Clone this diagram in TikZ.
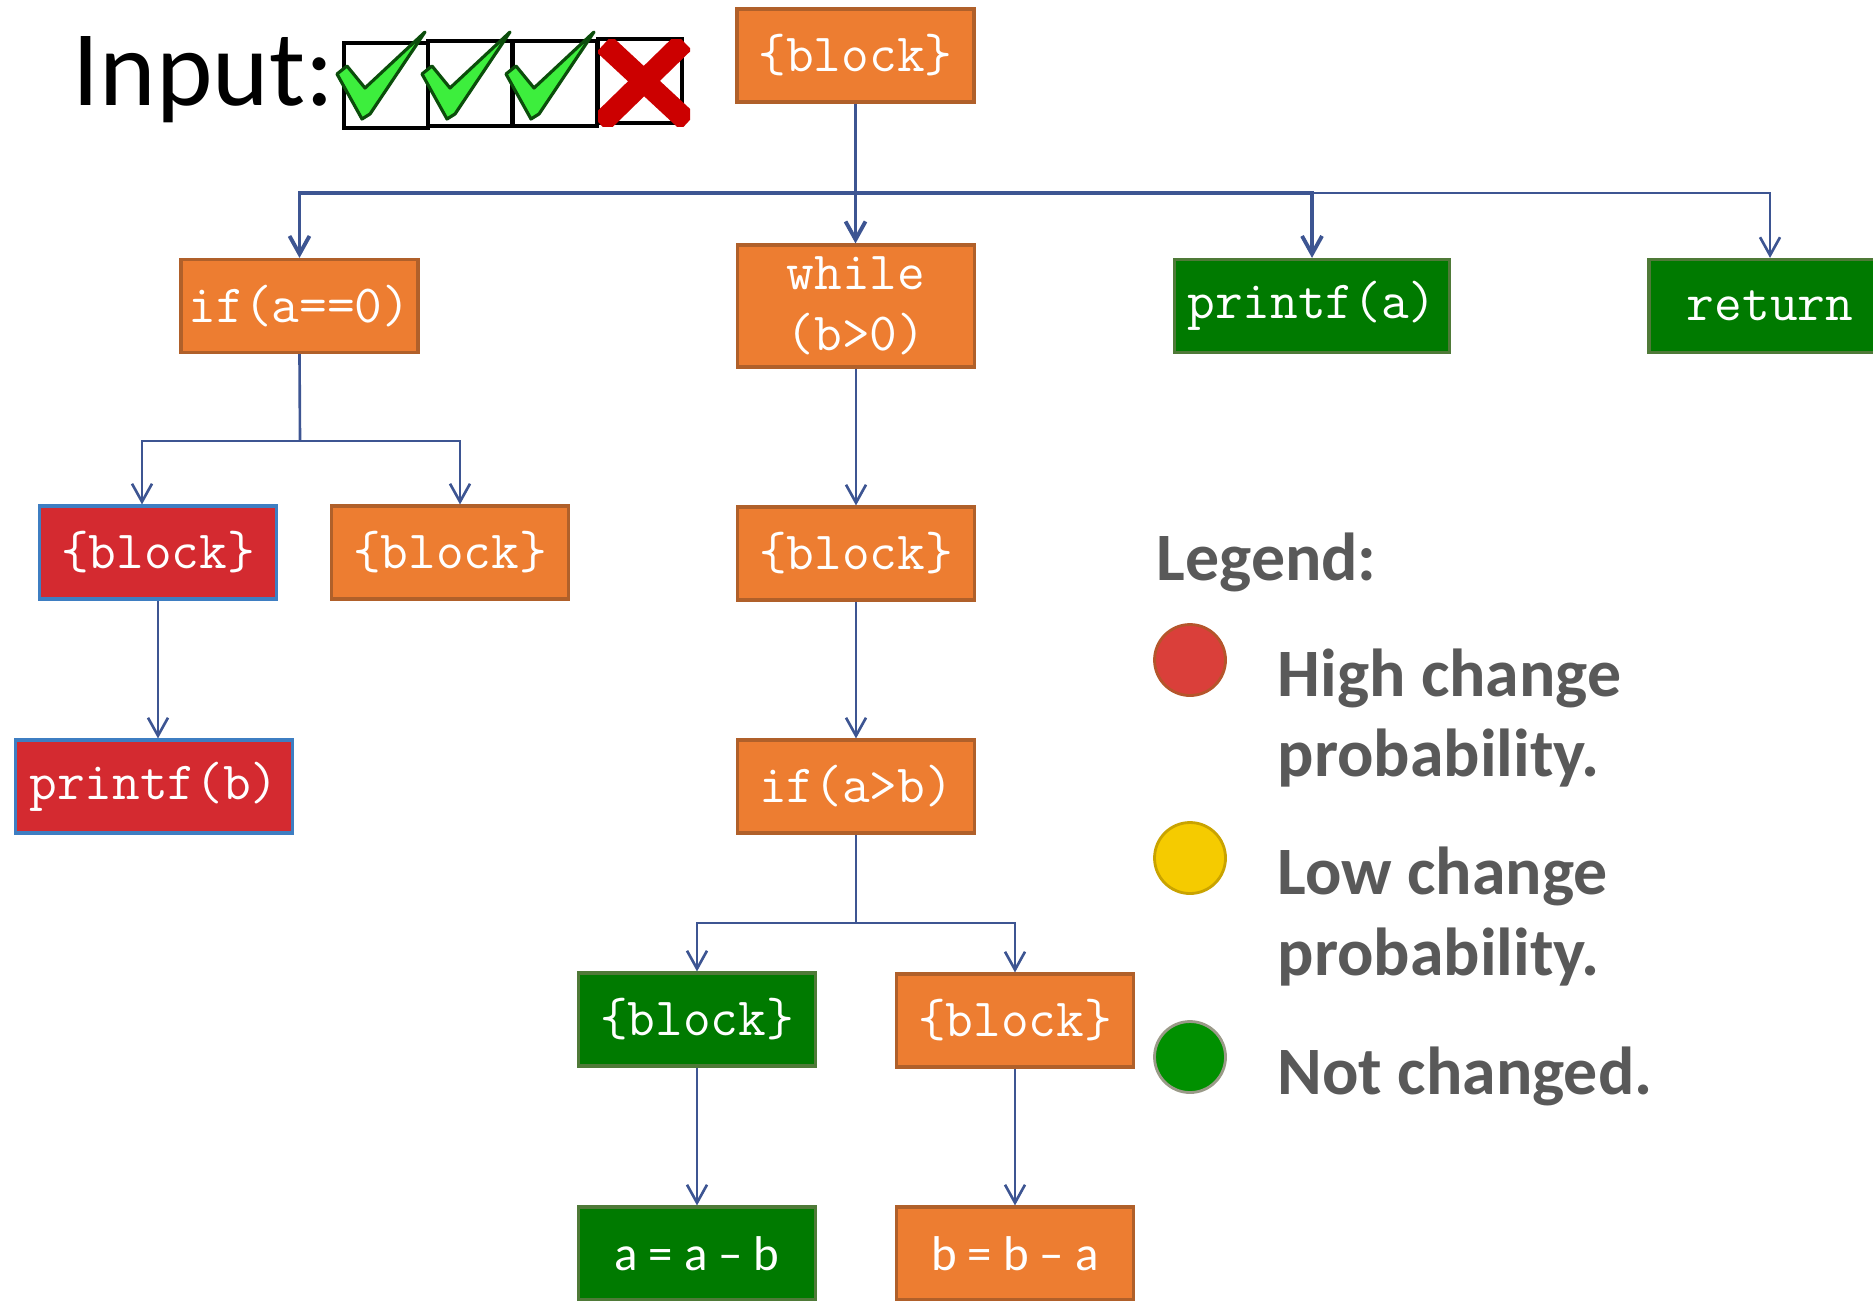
\documentclass[tikz,border=0pt]{standalone}
\usepackage{fontspec}
\setmainfont{Carlito}
\newfontfamily\plainfont{Carlito}
\usetikzlibrary{arrows.meta}

\definecolor{nodeorange}{HTML}{ED7D31}
\definecolor{orangeedge}{HTML}{B0602A}
\definecolor{nodered}{HTML}{D42A30}
\definecolor{rededge}{HTML}{3E7EC2}
\definecolor{nodegreen}{HTML}{007A00}
\definecolor{greenedge}{HTML}{4F7A38}
\definecolor{linkblue}{HTML}{3D5592}
\definecolor{legendgray}{HTML}{595959}
\definecolor{tickgreen}{HTML}{3DEE3D}
\definecolor{tickdark}{HTML}{0B4D0B}
\definecolor{crossred}{HTML}{CC0000}
\definecolor{dotred}{HTML}{DA3F3A}
\definecolor{dotrededge}{HTML}{B5552B}
\definecolor{dotyellow}{HTML}{F5CB00}
\definecolor{dotyellowedge}{HTML}{C9A300}
\definecolor{dotgreen}{HTML}{009000}
\definecolor{dotgreenedge}{HTML}{9A9A88}

\tikzset{
  box/.style={rectangle, draw, line width=0.9pt, minimum width=23.7mm,
    minimum height=9.3mm, inner sep=0pt, text=white,
    font=\ttfamily\fontsize{15.3pt}{15.9pt}\selectfont},
  hot/.style={box, fill=nodered, draw=rededge},
  warm/.style={box, fill=nodeorange, draw=orangeedge},
  cool/.style={box, fill=nodegreen, draw=greenedge},
  sumtext/.style={font=\plainfont\fontsize{13.9pt}{16pt}\selectfont},
  link/.style={draw=linkblue, line width=0.75pt},
  heavylink/.style={draw=linkblue, line width=1.1pt},
  arr/.style={-{Straight Barb[length=1.8mm, width=2mm]}},
  legendtext/.style={anchor=base west, inner sep=0pt, text=legendgray,
    font=\plainfont\bfseries\fontsize{19.3pt}{23pt}\selectfont},
  dot/.style={circle, minimum size=7.1mm, inner sep=0pt, line width=0.8pt},
  tickbox/.style={draw=black, line width=1.1pt},
  tick/.style={fill=tickgreen, draw=tickdark, line width=0.9pt, line join=round},
}

\begin{document}
\begin{tikzpicture}[x=0.1mm, y=-0.1mm]
\useasboundingbox (0,0) rectangle (1873,1300);
\clip (0,0) rectangle (1873,1300);

% input row: label, three ticked boxes and a crossed one
\node[anchor=base west, inner sep=0pt, font=\fontsize{30.6pt}{35pt}\selectfont] (inputlbl) at (72,105) {Input:};
\draw[tickbox] (344,43) rectangle (428,128);
\draw[tickbox] (428,41) rectangle (512,126);
\draw[tickbox] (513,41) rectangle (597,126);
\draw[tickbox] (598,39) rectangle (682,123);
\foreach \dx in {0,85,169} {
  \begin{scope}[shift={(\dx,0)}]
    \draw[tick] (337,74) -- (347,66) -- (365,88) -- (425,32) -- (370,114) -- (362,119) -- cycle;
  \end{scope}
}
\begin{scope}
  \clip (598,39) rectangle (690,126);
  \draw[crossred, line width=2.2mm] (604,44) -- (688,122);
  \draw[crossred, line width=2.2mm] (684,42) -- (600,124);
\end{scope}

% code blocks
\node[warm] (root)  at (855.5,55.5) {\{block\}};
\node[warm] (ifa)   at (299.5,306) {if(a==0)};
\node[warm, minimum height=12.2mm, align=center, font=\ttfamily\fontsize{15.3pt}{17.4pt}\selectfont] (loop) at (856,306) {while\\(b>0)};
\node[cool, minimum width=27.5mm] (pra) at (1312,306) {printf(a)};
\node[cool, minimum width=24.2mm] (ret) at (1770,306) {return};

\node[hot]  (thenA) at (158,552.5) {\{block\}};
\node[warm] (elseA) at (450,552.5) {\{block\}};
\node[warm] (body)  at (856,553.5) {\{block\}};
\node[hot, minimum width=27.7mm] (prb) at (154,786.5) {printf(b)};
\node[warm] (ifb)   at (856,786.5) {if(a>b)};

\node[cool] (thenB) at (697,1019.5) {\{block\}};
\node[warm] (elseB) at (1015,1020.5) {\{block\}};
\node[cool, sumtext] (suba) at (697,1253.5) {a = a – b};
\node[warm, sumtext] (subb) at (1015,1253.5) {b = b – a};

% connectors
\coordinate (bus) at (855.5,193);
\draw[heavylink, arr] (root.south) -- (root.south |- loop.north);
\draw[heavylink, arr] (bus) -| (ifa.north);
\draw[heavylink, arr] (bus) -| (pra.north);
\draw[link, arr] (pra.north |- bus) -| (ret.north);

\coordinate (forkA) at (300,441);
\coordinate (forkAL) at (142,441);
\coordinate (forkAR) at (460,441);
\draw[link] (ifa.south) -- (forkA);
\draw[link, arr] (forkA) -- (forkAL) -- (thenA.north -| forkAL);
\draw[link, arr] (forkA) -- (forkAR) -- (elseA.north -| forkAR);
\draw[link, arr] (thenA.south) -- (thenA.south |- prb.north);

\draw[link, arr] (loop.south) -- (body.north);
\draw[link, arr] (body.south) -- (ifb.north);

\coordinate (forkB) at (856,923);
\draw[link] (ifb.south) -- (forkB);
\draw[link, arr] (forkB) -| (thenB.north);
\draw[link, arr] (forkB) -| (elseB.north);
\draw[link, arr] (thenB.south) -- (suba.north);
\draw[link, arr] (elseB.south) -- (subb.north);

% legend
\node[legendtext] (lgtitle) at (1156,580) {Legend:};
\node[dot, fill=dotred, draw=dotrededge] (dothigh) at (1190,660) {};
\node[legendtext] (high1) at (1277,696) {High change};
\node[legendtext] (high2) at (1277,776) {probability.};
\node[dot, fill=dotyellow, draw=dotyellowedge] (dotlow) at (1190,858) {};
\node[legendtext] (low1) at (1277,894) {Low change};
\node[legendtext] (low2) at (1277,975) {probability.};
\node[dot, fill=dotgreen, draw=dotgreenedge] (dotnone) at (1190,1057) {};
\node[legendtext] (none1) at (1277,1094) {Not changed.};
\end{tikzpicture}
\end{document}
